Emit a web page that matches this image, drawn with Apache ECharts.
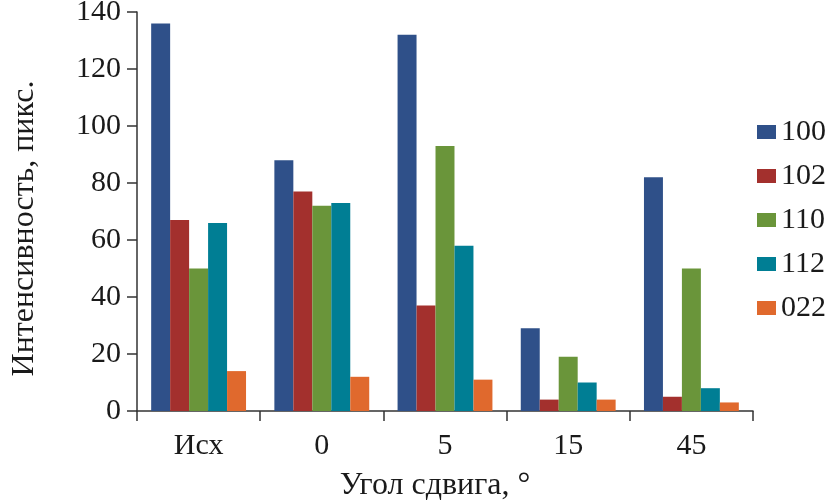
<!DOCTYPE html>
<html><head><meta charset="utf-8">
<script src="https://cdn.jsdelivr.net/npm/echarts@6/dist/echarts.min.js"></script>
<style>html,body{margin:0;padding:0;background:#fff}#c{width:827px;height:502px}</style>
</head><body><div id="c"></div>
<script>
const categories = ['Исх', '0', '5', '15', '45'];
const seriesNames = ['100', '102', '110', '112', '022'];
const s100 = [136, 88, 132, 29, 82];
const s102 = [67, 77, 37, 4, 5];
const s110 = [50, 72, 93, 19, 50];
const s112 = [66, 73, 58, 10, 8];
const s022 = [14, 12, 11, 4, 3];
const yTicks = [0, 20, 40, 60, 80, 100, 120, 140];
const colors = ['#2F5089', '#A3302D', '#6A953A', '#007E94', '#E0692D'];
const allData = [s100, s102, s110, s112, s022];

const font = '"Liberation Serif", "DejaVu Serif", serif';
const txt = '#1a1a1a';
const axisCol = '#333';

const chart = echarts.init(document.getElementById('c'), null, {renderer: 'canvas'});
chart.setOption({
  animation: false,
  color: colors,
  grid: {left: 137, right: 74, top: 12, bottom: 91, containLabel: false, outerBoundsMode: 'none'},
  legend: {
    orient: 'vertical', left: 752, top: 112,
    itemWidth: 19, itemHeight: 14, itemGap: 14,
    icon: 'rect',
    textStyle: {fontFamily: font, fontSize: 30, color: txt, padding: [0, 0, 0, 0]},
    data: seriesNames
  },
  xAxis: {
    type: 'category', data: categories,
    axisLine: {lineStyle: {color: axisCol, width: 1.5}},
    axisTick: {show: true, length: 10, lineStyle: {color: axisCol, width: 1.5}},
    axisLabel: {fontFamily: font, fontSize: 30, color: txt, margin: 20},
    name: 'Угол сдвига, °', nameLocation: 'middle', nameGap: 59,
    nameTextStyle: {fontFamily: font, fontSize: 32, color: txt, padding: [0, 20, 0, 0]}
  },
  yAxis: {
    type: 'value', min: yTicks[0], max: yTicks[yTicks.length - 1], interval: 20,
    splitLine: {show: false},
    axisLine: {show: true, lineStyle: {color: axisCol, width: 1.5}},
    axisTick: {show: true, length: 10, lineStyle: {color: axisCol, width: 1.5}},
    axisLabel: {fontFamily: font, fontSize: 30, color: txt, margin: 16},
    name: 'Интенсивность, пикс.', nameLocation: 'middle', nameGap: 96,
    nameTextStyle: {fontFamily: font, fontSize: 32, color: txt, padding: [0, 34, 0, 0]}
  },
  series: seriesNames.map((n, i) => ({
    name: n, type: 'bar', data: allData[i],
    barGap: '0%', barCategoryGap: '23%',
    itemStyle: {color: colors[i]}
  }))
});
</script></body></html>
